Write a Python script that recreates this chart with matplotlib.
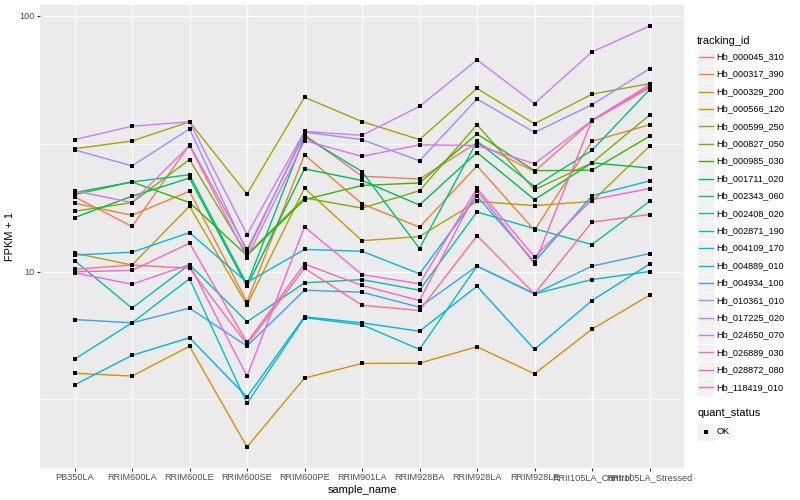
import numpy as np
import matplotlib
matplotlib.use('Agg')
import matplotlib.pyplot as plt
from matplotlib.patches import Rectangle
from matplotlib.lines import Line2D
from matplotlib.ticker import FixedLocator, NullFormatter

matplotlib.rcParams['font.family'] = ['Liberation Sans', 'DejaVu Sans']

sample_names = ['PB350LA', 'RRIM600LA', 'RRIM600LE', 'RRIM600SE', 'RRIM600PE', 'RRIM901LA',
                'RRIM928BA', 'RRIM928LA', 'RRIM928LE', 'RRII105LA_Control', 'RRII105LA_Stressed']

tracking_ids = ['Hb_000045_310', 'Hb_000317_390', 'Hb_000329_200', 'Hb_000566_120', 'Hb_000599_250',
                'Hb_000827_050', 'Hb_000985_030', 'Hb_001711_020', 'Hb_002343_060', 'Hb_002408_020',
                'Hb_002871_190', 'Hb_004109_170', 'Hb_004889_010', 'Hb_004934_100', 'Hb_010361_010',
                'Hb_017225_020', 'Hb_024650_070', 'Hb_026889_030', 'Hb_028872_080', 'Hb_118419_010']

# FPKM + 1, one list per gene, in sample_names order
hb_000045 = [19.6, 15.0, 31.3, 12.2, 34.3, 23.6, 23.0, 31.9, 24.6, 38.9, 52.3]
hb_000317 = [18.5, 16.6, 20.6, 7.6, 28.6, 18.4, 14.9, 25.9, 14.5, 32.3, 37.5]
hb_000329 = [4.0, 3.9, 5.1, 2.06, 3.83, 4.37, 4.38, 5.08, 3.98, 5.95, 8.08]
hb_000566 = [11.8, 10.6, 18.0, 7.4, 21.2, 13.2, 13.7, 18.8, 18.1, 18.8, 30.9]
hb_000599 = [30.2, 32.4, 38.5, 20.1, 48.0, 38.6, 32.8, 52.0, 37.8, 49.4, 54.3]
hb_000827 = [17.2, 18.6, 27.4, 11.65, 19.4, 17.7, 20.7, 37.5, 20.9, 26.6, 40.9]
hb_000985 = [20.0, 22.4, 18.6, 11.55, 19.1, 21.7, 22.2, 34.5, 24.8, 24.9, 33.8]
hb_001711 = [16.25, 19.7, 23.2, 8.74, 25.2, 22.7, 18.2, 29.2, 19.1, 26.6, 25.4]
hb_002343 = [20.35, 22.4, 23.9, 8.9, 33.7, 24.6, 12.3, 32.3, 21.5, 29.8, 51.4]
hb_002408 = [11.04, 7.19, 10.65, 6.36, 9.03, 9.3, 8.45, 17.1, 14.7, 12.75, 18.8]
hb_002871 = [4.54, 6.3, 9.37, 3.05, 6.6, 6.19, 4.96, 10.5, 8.18, 9.3, 10.0]
hb_004109 = [11.6, 11.9, 14.2, 9.06, 12.2, 12.0, 9.8, 19.7, 10.9, 19.8, 22.6]
hb_004889 = [3.6, 4.7, 5.51, 3.23, 6.65, 6.3, 5.84, 8.76, 4.96, 7.7, 10.7]
hb_004934 = [6.49, 6.3, 7.19, 5.11, 8.45, 8.3, 7.25, 10.5, 8.18, 10.5, 11.75]
hb_010361 = [29.9, 25.9, 36.1, 11.9, 35.1, 32.8, 27.1, 47.3, 35.0, 44.9, 62.1]
hb_017225 = [32.8, 37.0, 38.5, 13.95, 35.3, 34.1, 44.2, 67.3, 45.4, 72.3, 91.2]
hb_024650 = [20.7, 18.6, 31.1, 11.34, 32.5, 28.2, 31.3, 31.1, 26.4, 39.0, 52.9]
hb_026889 = [9.88, 8.92, 10.65, 3.9, 14.95, 9.73, 8.95, 21.2, 11.4, 19.1, 21.1]
hb_028872 = [9.97, 10.1, 12.9, 5.28, 10.7, 8.82, 7.7, 20.7, 10.7, 39.0, 53.8]
hb_118419 = [10.2, 10.6, 10.3, 5.19, 10.3, 7.38, 7.04, 13.8, 8.18, 15.6, 16.7]

series = [hb_000045, hb_000317, hb_000329, hb_000566, hb_000599, hb_000827, hb_000985,
          hb_001711, hb_002343, hb_002408, hb_002871, hb_004109, hb_004889, hb_004934,
          hb_010361, hb_017225, hb_024650, hb_026889, hb_028872, hb_118419]


def hcl_hex(h, c=100.0, l=65.0):
    # polar Luv -> sRGB, same as R's hcl()
    xn, yn, zn = 95.047, 100.0, 108.883
    un = 4 * xn / (xn + 15 * yn + 3 * zn)
    vn = 9 * yn / (xn + 15 * yn + 3 * zn)
    y = yn * ((l + 16) / 116) ** 3
    u = c * np.cos(np.radians(h)) / (13 * l) + un
    v = c * np.sin(np.radians(h)) / (13 * l) + vn
    x = 9 * y * u / (4 * v)
    z = -x / 3 - 5 * y + 3 * y / v
    m = np.array([[3.2404542, -1.5371385, -0.4985314],
                  [-0.9692660, 1.8760108, 0.0415560],
                  [0.0556434, -0.2040259, 1.0572252]])
    rgb = m @ (np.array([x, y, z]) / 100.0)
    rgb = np.where(rgb <= 0.0031308, 12.92 * rgb, 1.055 * np.power(np.clip(rgb, 0, None), 1 / 2.4) - 0.055)
    rgb = np.clip(rgb, 0, 1)
    return '#%02X%02X%02X' % tuple(int(round(k * 255)) for k in rgb)


n = len(tracking_ids)
colors = [hcl_hex(15 + 360.0 * i / n) for i in range(n)]

W, H = 800, 500
fig = plt.figure(figsize=(8, 5), dpi=100)
ax = fig.add_axes([40 / W, 1 - 468 / H, 644 / W, 463 / H])
ax.set_facecolor('#EBEBEB')
for s in ax.spines.values():
    s.set_visible(False)

xs = np.arange(len(sample_names))
for vals, col in zip(series, colors):
    ax.plot(xs, vals, color=col, lw=1.0, zorder=2, solid_capstyle='butt')
for vals in series:
    ax.plot(xs, vals, ls='none', marker='s', ms=2.3, mew=0, color='black', zorder=3)

ax.set_yscale('log')
allv = np.log10(np.concatenate([np.array(v) for v in series]))
lo, hi = allv.min(), allv.max()
pad = 0.05 * (hi - lo)
ax.set_ylim(10 ** (lo - pad), 10 ** (hi + pad))
ax.set_xlim(-0.6, len(sample_names) - 0.4)

ax.set_yticks([10, 100])
ax.set_yticklabels(['10', '100'])
ax.yaxis.set_minor_locator(FixedLocator([10 ** 0.5, 10 ** 1.5]))
ax.yaxis.set_minor_formatter(NullFormatter())
ax.set_xticks(xs)
ax.set_xticklabels(sample_names)
ax.xaxis.set_minor_locator(FixedLocator([]))

ax.grid(which='major', color='white', lw=1.0)
ax.grid(which='minor', axis='y', color='white', lw=0.5)
ax.set_axisbelow(True)
ax.tick_params(which='major', length=2.0, width=0.8, color='#333333', labelcolor='#4D4D4D',
               labelsize=6.6, pad=1.6)
ax.tick_params(which='minor', length=0)

ax.set_xlabel('sample_name', fontsize=7.9, labelpad=2.0)
ax.set_ylabel('FPKM + 1', fontsize=7.9, labelpad=3.0)


# legend drawn in figure pixel coords
def fx(px):
    return px / W


def fy(py):
    return 1 - py / H


key = 17.3
fig.text(fx(697), fy(40.7), 'tracking_id', fontsize=7.9, va='center', ha='left')
for i, (tid, col) in enumerate(zip(tracking_ids, colors)):
    yc = 56.7 + 17.4 * i
    fig.patches.append(Rectangle((fx(697), fy(yc + key / 2)), key / W, key / H,
                                 transform=fig.transFigure, facecolor='#F2F2F2', edgecolor='white', lw=0.5))
    fig.lines.append(Line2D([fx(698.5), fx(712.5)], [fy(yc), fy(yc)], transform=fig.transFigure,
                            color=col, lw=1.0))
    fig.text(fx(716.5), fy(yc), tid, fontsize=6.6, va='center', ha='left')

fig.text(fx(697), fy(413), 'quant_status', fontsize=7.9, va='center', ha='left')
yc = 432
fig.patches.append(Rectangle((fx(697), fy(yc + key / 2)), key / W, key / H,
                             transform=fig.transFigure, facecolor='#F2F2F2', edgecolor='white', lw=0.5))
fig.lines.append(Line2D([fx(697 + key / 2)], [fy(yc)], transform=fig.transFigure,
                        marker='s', ms=2.3, mew=0, color='black', ls='none'))
fig.text(fx(716.5), fy(yc), 'OK', fontsize=6.6, va='center', ha='left')

fig.savefig('out.png', dpi=100)
